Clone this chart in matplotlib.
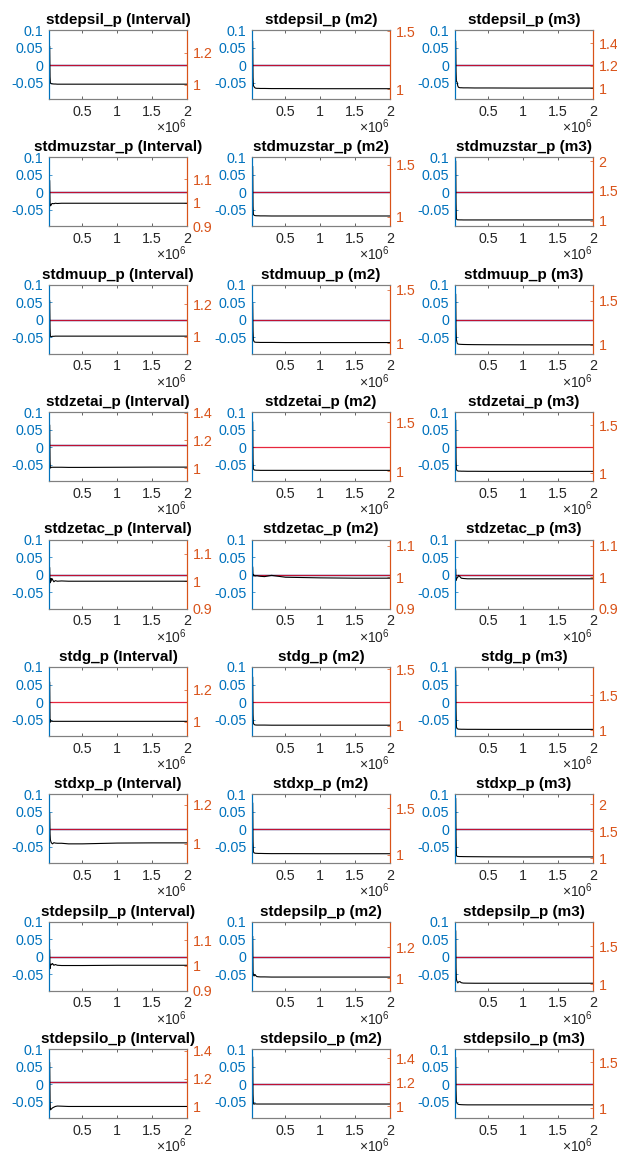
import numpy as np
import matplotlib
matplotlib.use("Agg")
import matplotlib.pyplot as plt

plt.rcParams['font.family'] = ['Liberation Sans', 'DejaVu Sans']
plt.rcParams['mathtext.fontset'] = 'custom'
plt.rcParams['mathtext.rm'] = 'Liberation Sans'
plt.rcParams['mathtext.it'] = 'Liberation Sans:italic'
plt.rcParams['mathtext.bf'] = 'Liberation Sans:bold'

# parameters (rows) and diagnostic kind (columns)
params = ['stdepsil_p', 'stdmuzstar_p', 'stdmuup_p', 'stdzetai_p', 'stdzetac_p',
          'stdg_p', 'stdxp_p', 'stdepsilp_p', 'stdepsilo_p']
kinds = ['Interval', 'm2', 'm3']

# iterations (in 1e6)
iters = [0.03, 0.035, 0.04, 0.05, 0.06, 0.07, 0.09, 0.11, 0.14, 0.2, 0.3, 0.5, 1.0, 1.5, 2.0]

# ratio series (right axis), one list per panel, row-major
ratio = [
    [1.24, 1.05, 1.012, 1.008, 1.006, 1.006, 1.005, 1.005, 1.004, 1.004, 1.004, 1.004, 1.004, 1.004, 1.004],
    [1.41, 1.10, 1.03, 1.02, 1.012, 1.008, 1.006, 1.006, 1.005, 1.005, 1.004, 1.004, 1.003, 1.003, 1.003],
    [1.415, 1.15, 1.06, 1.055, 1.02, 1.008, 1.004, 1.004, 1.003, 1.003, 1.002, 1.002, 1.001, 1.001, 1.001],
    [1.093, 1.0, 0.987, 0.99, 0.996, 0.997, 0.996, 0.998, 0.997, 0.998, 0.998, 0.998, 0.998, 0.998, 0.998],
    [1.48, 1.10, 1.02, 1.014, 1.01, 1.009, 1.008, 1.008, 1.007, 1.007, 1.006, 1.006, 1.006, 1.006, 1.006],
    [2.0, 1.3, 1.03, 1.015, 1.012, 1.012, 1.011, 1.011, 1.01, 1.01, 1.01, 1.01, 1.01, 1.01, 1.01],
    [1.22, 1.05, 1.003, 1.0, 1.002, 1.003, 1.003, 1.004, 1.004, 1.004, 1.004, 1.004, 1.004, 1.004, 1.004],
    [1.374, 1.12, 1.03, 1.015, 1.01, 1.009, 1.008, 1.008, 1.007, 1.007, 1.007, 1.006, 1.006, 1.006, 1.006],
    [1.573, 1.2, 1.06, 1.02, 1.01, 1.008, 1.006, 1.005, 1.004, 1.003, 1.002, 1.001, 1.0, 1.0, 1.0],
    [1.31, 1.05, 1.0, 1.005, 1.006, 1.006, 1.006, 1.006, 1.006, 1.006, 1.005, 1.005, 1.006, 1.007, 1.007],
    [1.5, 1.12, 1.025, 1.015, 1.012, 1.012, 1.011, 1.011, 1.01, 1.01, 1.01, 1.01, 1.01, 1.01, 1.01],
    [1.552, 1.15, 1.04, 1.025, 1.022, 1.02, 1.02, 1.019, 1.019, 1.018, 1.018, 1.017, 1.017, 1.017, 1.017],
    [1.049, 0.994, 1.009, 1.0, 1.01, 1.006, 0.998, 1.002, 1.0, 1.001, 1.0, 1.0, 1.0, 1.0, 1.0],
    [1.032, 1.005, 1.009, 1.004, 1.006, 1.004, 1.005, 1.004, 1.003, 1.002, 1.006, 1.0, 0.998, 0.997, 0.997],
    [1.025, 0.99, 0.993, 0.998, 1.0, 1.006, 1.002, 0.997, 0.996, 0.995, 0.995, 0.995, 0.995, 0.995, 0.995],
    [1.246, 0.998, 1.012, 1.004, 1.006, 1.004, 1.004, 1.004, 1.004, 1.004, 1.004, 1.004, 1.004, 1.004, 1.004],
    [1.428, 1.1, 1.02, 1.01, 1.006, 1.005, 1.004, 1.004, 1.004, 1.004, 1.003, 1.003, 1.003, 1.003, 1.003],
    [1.847, 1.3, 1.05, 1.025, 1.02, 1.018, 1.017, 1.016, 1.016, 1.015, 1.015, 1.014, 1.014, 1.014, 1.014],
    [1.158, 1.05, 1.02, 1.008, 1.003, 1.0, 1.006, 1.004, 1.003, 1.003, 1.0, 1.0, 1.004, 1.005, 1.005],
    [1.552, 1.15, 1.03, 1.02, 1.016, 1.015, 1.014, 1.013, 1.013, 1.012, 1.011, 1.011, 1.01, 1.01, 1.01],
    [2.1, 1.4, 1.05, 1.03, 1.03, 1.028, 1.027, 1.027, 1.026, 1.025, 1.024, 1.022, 1.02, 1.02, 1.02],
    [1.062, 0.988, 0.997, 1.006, 1.004, 1.008, 1.001, 1.004, 1.001, 1.0, 1.0, 1.0, 1.001, 1.001, 1.001],
    [1.267, 1.046, 1.021, 1.015, 1.025, 1.019, 1.011, 1.01, 1.009, 1.009, 1.008, 1.008, 1.008, 1.008, 1.008],
    [1.704, 1.217, 1.065, 1.035, 1.017, 1.03, 1.035, 1.02, 1.015, 1.014, 1.013, 1.013, 1.013, 1.013, 1.013],
    [1.313, 1.05, 0.976, 0.98, 0.985, 0.99, 0.995, 1.0, 1.003, 1.002, 1.0, 1.0, 1.0, 1.0, 1.0],
    [1.41, 1.1, 1.02, 1.015, 1.02, 1.018, 1.017, 1.017, 1.017, 1.017, 1.017, 1.017, 1.017, 1.017, 1.017],
    [1.55, 1.2, 1.07, 1.05, 1.045, 1.04, 1.038, 1.037, 1.036, 1.035, 1.035, 1.035, 1.035, 1.035, 1.035],
]

# right axis limits and ticks per panel
right_lim = [
    (0.911, 1.344), (0.914, 1.51), (0.904, 1.517),
    (0.9, 1.192), (0.906, 1.569), (0.901, 2.066),
    (0.896, 1.318), (0.901, 1.545), (0.898, 1.682),
    (0.905, 1.405), (0.9, 1.6), (0.914, 1.638),
    (0.9, 1.152), (0.9, 1.12), (0.9, 1.12),
    (0.913, 1.341), (0.907, 1.52), (0.92, 1.903),
    (0.9, 1.253), (0.906, 1.647), (0.9, 2.18),
    (0.9, 1.173), (0.92, 1.362), (0.913, 1.826),
    (0.916, 1.41), (0.898, 1.477), (0.889, 1.644),
]
right_ticks = [
    [1, 1.2], [1, 1.5], [1, 1.2, 1.4],
    [0.9, 1, 1.1], [1, 1.5], [1, 1.5, 2],
    [1, 1.2], [1, 1.5], [1, 1.5],
    [1, 1.2, 1.4], [1, 1.5], [1, 1.5],
    [0.9, 1, 1.1], [0.9, 1, 1.1], [0.9, 1, 1.1],
    [1, 1.2], [1, 1.5], [1, 1.5],
    [1, 1.2], [1, 1.5], [1, 1.5, 2],
    [0.9, 1, 1.1], [1, 1.2], [1, 1.5],
    [1, 1.2, 1.4], [1, 1.2, 1.4], [1, 1.5],
]

# flat reference lines on the left axis
within_level = [0, 0, 0, 0, 0, 0, 0, 0, 0, 0.007, 0, 0, 0, 0, 0,
                0, 0, 0, 0, 0, 0, 0, 0, 0, 0.007, 0, 0]
pooled_level = [0, 0, 0, 0, 0, 0, 0, 0, 0, 0.007, np.nan, np.nan, 0, 0, 0,
                np.nan, np.nan, np.nan, 0, 0, 0, 0, 0, 0, 0.007, 0, 0]
left_ticks = [-0.05, 0, 0.05, 0.1]

BLUE = '#0072BD'
ORANGE = '#D95319'
GRAY = '#262626'

fig = plt.figure(figsize=(6.17, 11.55), dpi=100)
W, H = 617, 1155

for r, p in enumerate(params):
    for c, k in enumerate(kinds):
        i = r * 3 + c
        left = 49 + 203 * c
        top = 30 + 127.4 * r
        ax = fig.add_axes([left / W, 1 - (top + 69) / H, 138 / W, 69 / H])
        ax2 = ax.twinx()

        ax.axhline(pooled_level[i], color=BLUE, lw=1.0)
        ax.axhline(within_level[i], color='#E3001B', lw=0.9, alpha=0.85)
        ax2.plot(iters, ratio[i], color='black', lw=0.8)

        ax.set_xlim(0.02, 2.0)
        ax.set_ylim(-0.097, 0.1)
        ax.set_yticks(left_ticks)
        ax.set_yticklabels(['%g' % t for t in left_ticks])
        ax.set_xticks([0.5, 1, 1.5, 2])
        ax.set_xticklabels(['0.5', '1', '1.5', '2'])
        ax2.set_ylim(*right_lim[i])
        ax2.set_yticks(right_ticks[i])
        ax2.set_yticklabels(['%g' % t for t in right_ticks[i]])

        ax.tick_params(axis='x', direction='in', top=True, length=2.5, width=0.5,
                       colors=GRAY, labelsize=10.3, pad=4)
        ax.tick_params(axis='y', direction='in', length=2.5, width=0.5,
                       colors=BLUE, labelsize=10.3, pad=4)
        ax2.tick_params(axis='y', direction='in', length=2.5, width=0.5,
                        colors=ORANGE, labelsize=10.3, pad=4)
        for a in (ax, ax2):
            a.spines['top'].set_color('#808080')
            a.spines['bottom'].set_color('#808080')
            a.spines['left'].set_color(BLUE)
            a.spines['right'].set_color(ORANGE)
            for s in a.spines.values():
                s.set_linewidth(0.8)

        ax.set_title('%s (%s)' % (p, k), fontsize=11, fontweight='bold',
                     color='black', pad=4.5)
        ax.text(1.0, -0.40, '×10$^{6}$', transform=ax.transAxes, ha='right',
                va='center', fontsize=10, color=GRAY)

fig.savefig('out.png', dpi=100)
